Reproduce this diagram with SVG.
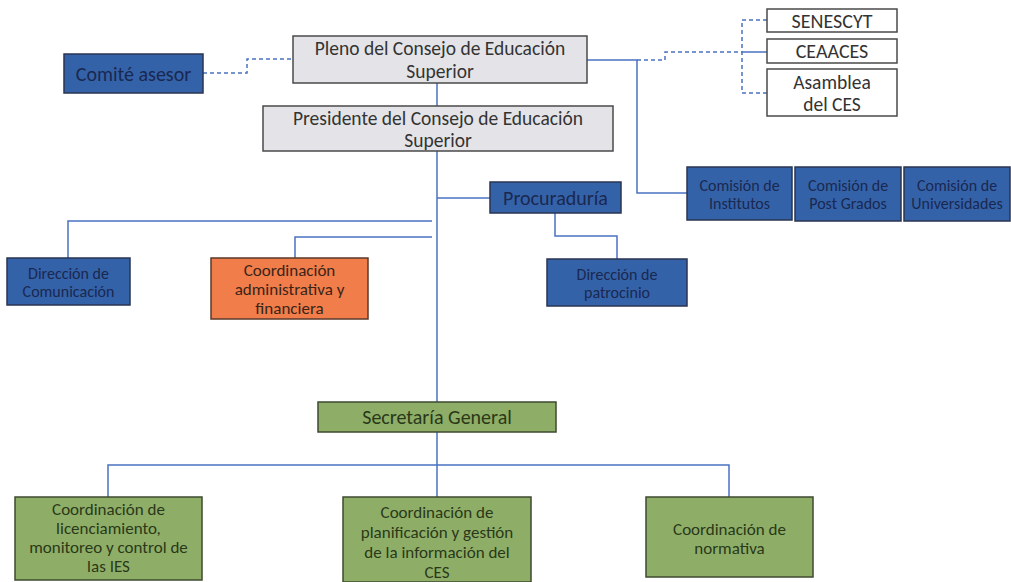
<svg xmlns="http://www.w3.org/2000/svg" width="1011" height="582" viewBox="0 0 1011 582">
<style>
text{font-family:Carlito,"Liberation Sans",Arial,sans-serif;text-anchor:middle;dominant-baseline:central}
.gray{fill:#E4E4E8;stroke:#4A4A4A;stroke-width:1.5}
.white{fill:#FFFFFF;stroke:#4A4A4A;stroke-width:1.5}
.blue{fill:#3462A8;stroke:#2A3550;stroke-width:1.5}
.orange{fill:#F07D4A;stroke:#5A3A2A;stroke-width:1.5}
.green{fill:#8EAE68;stroke:#3E4A30;stroke-width:1.5}
.tg{fill:#333333}
.tb{fill:#1A2850}
.to{fill:#3A2418}
.tgr{fill:#2A3818}
.ln{fill:none;stroke:#4A72C0;stroke-width:1.5}
.dash{fill:none;stroke:#4A72C0;stroke-width:1.5;stroke-dasharray:4 3}
</style>
<rect width="1011" height="582" fill="#FFFFFF"/>
<g id="connectors">
<path class="ln" d="M437,83 V106"/>
<path class="ln" d="M437,151 V402"/>
<path class="ln" d="M437,198 H490"/>
<path class="ln" d="M432,221 H68 V258"/>
<path class="ln" d="M432,237 H295 V258"/>
<path class="ln" d="M555,213 V236 H617 V259"/>
<path class="ln" d="M587,60 H637 V193 H687"/>
<path class="dash" d="M637,60 H665 V52 H742"/>
<path class="ln" d="M742,52 H767"/>
<path class="dash" d="M767,20 H742 V93 H767"/>
<path class="dash" d="M203,73 H247 V59 H293"/>
<path class="ln" d="M437,432 V497"/>
<path class="ln" d="M108,497 V465 H729 V497"/>
</g>
<g id="comite">
<rect class="blue" x="64" y="54" width="139" height="39"/>
<text class="tb" x="133.5" y="74" font-size="20">Comité asesor</text>
</g>
<g id="pleno">
<rect class="gray" x="293" y="36" width="294" height="47"/>
<text class="tg" x="440" y="48" font-size="19.5">Pleno del Consejo de Educación</text>
<text class="tg" x="440" y="71" font-size="19.5">Superior</text>
</g>
<g id="presidente">
<rect class="gray" x="263" y="106" width="350" height="45"/>
<text class="tg" x="438" y="117.5" font-size="19.5">Presidente del Consejo de Educación</text>
<text class="tg" x="438" y="140" font-size="19.5">Superior</text>
</g>
<g id="senescyt">
<rect class="white" x="767" y="9" width="130" height="23"/>
<text class="tg" x="832" y="21" font-size="20">SENESCYT</text>
</g>
<g id="ceaaces">
<rect class="white" x="767" y="39" width="130" height="24"/>
<text class="tg" x="832" y="51" font-size="20">CEAACES</text>
</g>
<g id="asamblea">
<rect class="white" x="767" y="69" width="130" height="47"/>
<text class="tg" x="832" y="82" font-size="19.5">Asamblea</text>
<text class="tg" x="832" y="104" font-size="19.5">del CES</text>
</g>
<g id="procuraduria">
<rect class="blue" x="490" y="182" width="131" height="31"/>
<text class="tb" x="555.5" y="198" font-size="20">Procuraduría</text>
</g>
<g id="com-institutos">
<rect class="blue" x="687" y="167" width="105" height="53"/>
<text class="tb" x="739.5" y="185" font-size="16">Comisión de</text>
<text class="tb" x="739.5" y="203" font-size="16">Institutos</text>
</g>
<g id="com-postgrados">
<rect class="blue" x="795" y="167" width="106" height="54"/>
<text class="tb" x="848" y="185" font-size="16">Comisión de</text>
<text class="tb" x="848" y="203" font-size="16">Post Grados</text>
</g>
<g id="com-universidades">
<rect class="blue" x="904" y="167" width="106" height="54"/>
<text class="tb" x="957" y="185" font-size="16">Comisión de</text>
<text class="tb" x="957" y="203" font-size="16">Universidades</text>
</g>
<g id="dir-comunicacion">
<rect class="blue" x="7" y="258" width="123" height="47"/>
<text class="tb" x="68.5" y="273" font-size="16">Dirección de</text>
<text class="tb" x="68.5" y="291" font-size="16">Comunicación</text>
</g>
<g id="coord-admin">
<rect class="orange" x="211" y="258" width="157" height="61"/>
<text class="to" x="289.5" y="270" font-size="17">Coordinación</text>
<text class="to" x="289.5" y="289" font-size="17">administrativa y</text>
<text class="to" x="289.5" y="308" font-size="17">financiera</text>
</g>
<g id="dir-patrocinio">
<rect class="blue" x="547" y="259" width="140" height="47"/>
<text class="tb" x="617" y="274" font-size="16">Dirección de</text>
<text class="tb" x="617" y="292" font-size="16">patrocinio</text>
</g>
<g id="secretaria">
<rect class="green" x="318" y="402" width="238" height="30"/>
<text class="tgr" x="437" y="417" font-size="20">Secretaría General</text>
</g>
<g id="coord-licenciamiento">
<rect class="green" x="15" y="497" width="187" height="83"/>
<text class="tgr" x="108.5" y="509" font-size="17">Coordinación de</text>
<text class="tgr" x="108.5" y="528" font-size="17">licenciamiento,</text>
<text class="tgr" x="108.5" y="547" font-size="17">monitoreo y control de</text>
<text class="tgr" x="108.5" y="566" font-size="17">las IES</text>
</g>
<g id="coord-planificacion">
<rect class="green" x="343" y="497" width="188" height="85"/>
<text class="tgr" x="437" y="512" font-size="17">Coordinación de</text>
<text class="tgr" x="437" y="532" font-size="17">planificación y gestión</text>
<text class="tgr" x="437" y="552" font-size="17">de la información del</text>
<text class="tgr" x="437" y="572" font-size="17">CES</text>
</g>
<g id="coord-normativa">
<rect class="green" x="646" y="497" width="167" height="80"/>
<text class="tgr" x="729.5" y="529" font-size="17">Coordinación de</text>
<text class="tgr" x="729.5" y="548" font-size="17">normativa</text>
</g>
</svg>
